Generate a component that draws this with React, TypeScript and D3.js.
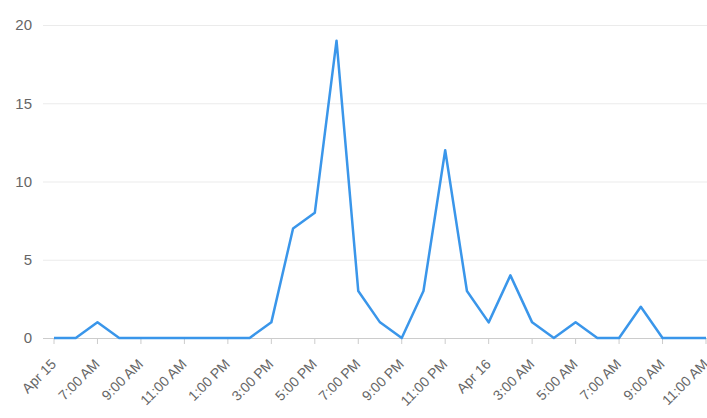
import React from "react";
import * as d3 from "d3";

const hours: number[] = d3.range(0, 31);
const values: number[] = [0, 0, 1, 0, 0, 0, 0, 0, 0, 0, 1, 7, 8, 19, 3, 1, 0, 3, 12, 3, 1, 4, 1, 0, 1, 0, 0, 2, 0, 0, 0];
const tickHours: number[] = [0, 2, 4, 6, 8, 10, 12, 14, 16, 18, 20, 22, 24, 26, 28, 30];
const tickLabels: string[] = ["Apr 15", "7:00 AM", "9:00 AM", "11:00 AM", "1:00 PM", "3:00 PM", "5:00 PM", "7:00 PM", "9:00 PM", "11:00 PM", "Apr 16", "3:00 AM", "5:00 AM", "7:00 AM", "9:00 AM", "11:00 AM"];
const yTicks: number[] = [0, 5, 10, 15, 20];

const W = 707;
const H = 418;

export default function App() {
  const x = d3.scaleLinear().domain([0, 30]).range([54, 706]);
  const y = d3.scaleLinear().domain([0, 20]).range([338, 25]);
  const line = d3
    .line<number>()
    .x((_, i) => x(hours[i]))
    .y((d) => y(d));
  const font = "Arial, 'Liberation Sans', sans-serif";
  return (
    <svg
      width={W}
      height={H}
      style={{ position: "absolute", left: 0, top: 0, background: "#fff" }}
      fontFamily={font}
    >
      {yTicks.map((t) => (
        <g key={t}>
          {t !== 0 && (
            <line x1={43} x2={W} y1={y(t) + 0.5} y2={y(t) + 0.5} stroke="#ebebeb" strokeWidth={1} />
          )}
          <text x={32} y={y(t)} dy="0.35em" textAnchor="end" fontSize={15} fill="#666">
            {t}
          </text>
        </g>
      ))}
      <line x1={43} x2={W} y1={y(0) + 0.5} y2={y(0) + 0.5} stroke="#ccc" strokeWidth={1} />
      {tickHours.map((h, i) => (
        <g key={h}>
          <line x1={x(h)} x2={x(h)} y1={y(0)} y2={y(0) + 6} stroke="#ccc" strokeWidth={1} />
          <text
            transform={`translate(${x(h) + 3},${y(0) + 27}) rotate(-45)`}
            textAnchor="end"
            fontSize={14}
            fill="#666"
          >
            {tickLabels[i]}
          </text>
        </g>
      ))}
      <path d={line(values) || ""} fill="none" stroke="#3a96ea" strokeWidth={2.5} strokeLinejoin="round" />
    </svg>
  );
}
